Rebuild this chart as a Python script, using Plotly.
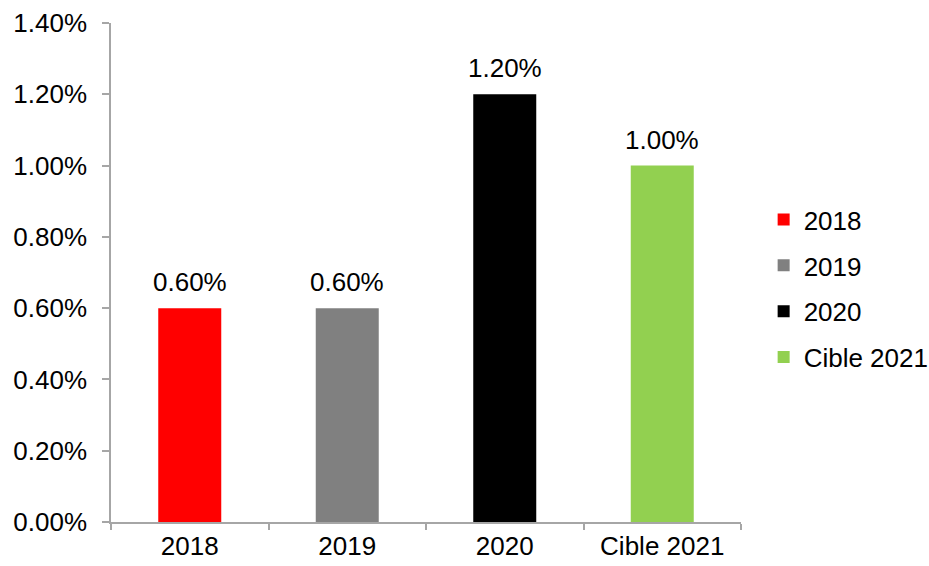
import plotly.graph_objects as go

# Series: one bar per year, shares expressed as fractions
categories = ["2018", "2019", "2020", "Cible 2021"]
values = [0.006, 0.006, 0.012, 0.010]
colors = ["#FF0000", "#808080", "#000000", "#92D050"]

y_ticks = [0.0, 0.002, 0.004, 0.006, 0.008, 0.010, 0.012, 0.014]

FONT = "Arial, Liberation Sans, sans-serif"
FONT_SIZE = 26
AXIS_GRAY = "#A6A6A6"

fig = go.Figure()
for cat, val, col in zip(categories, values, colors):
    fig.add_trace(go.Bar(
        x=[cat], y=[val], name=cat, legendgroup=cat,
        marker=dict(color=col, line=dict(width=0)),
        width=0.4,
    ))

# Value labels above each bar (category axis positions are indices)
for i, val in enumerate(values):
    fig.add_annotation(
        x=i, y=val, text=f"{val:.2%}", showarrow=False,
        yanchor="middle", yshift=26,
        font=dict(family=FONT, size=FONT_SIZE, color="#000000"),
    )

fig.update_layout(
    width=929, height=566,
    margin=dict(l=111, r=188, t=23, b=44),
    paper_bgcolor="white", plot_bgcolor="white",
    barmode="overlay",
    font=dict(family=FONT, size=FONT_SIZE, color="#000000"),
    legend=dict(
        xref="container", yref="container",
        x=0.822, xanchor="left", y=0.49, yanchor="middle",
        font=dict(family=FONT, size=FONT_SIZE, color="#000000"),
        bgcolor="rgba(0,0,0,0)", tracegroupgap=9,
    ),
    xaxis=dict(
        type="category", categoryorder="array", categoryarray=categories,
        range=[-0.5, len(categories) - 0.5], tickangle=0,
        showline=True, linecolor=AXIS_GRAY, linewidth=1.5,
        ticks="outside", tickson="boundaries", ticklen=6,
        tickcolor=AXIS_GRAY, tickwidth=1.5,
        showgrid=False, zeroline=False, automargin=False,
        tickfont=dict(family=FONT, size=FONT_SIZE, color="#000000"),
    ),
    yaxis=dict(
        range=[0, 0.014], tickvals=y_ticks, tickformat=".2%",
        showline=True, linecolor=AXIS_GRAY, linewidth=1.5,
        ticks="outside", ticklen=7, tickcolor=AXIS_GRAY, tickwidth=1.5,
        ticklabelstandoff=10,
        showgrid=False, zeroline=False, automargin=False,
        tickfont=dict(family=FONT, size=FONT_SIZE, color="#000000"),
    ),
)

fig.write_html("out.html")
